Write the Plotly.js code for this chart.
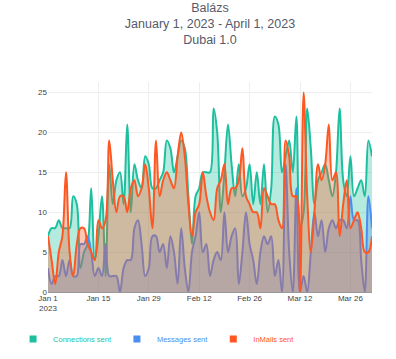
<!DOCTYPE html>
<html>
<head>
<meta charset="utf-8">
<script src="https://cdn.plot.ly/plotly-3.0.1.min.js"></script>
<style>html,body{margin:0;padding:0;background:#fff;}#chart{width:396px;height:359px;}</style>
</head>
<body>
<div id="chart"></div>
<script>
const dates = [
'2023-01-01','2023-01-02','2023-01-03','2023-01-04','2023-01-05','2023-01-06','2023-01-07','2023-01-08','2023-01-09','2023-01-10',
'2023-01-11','2023-01-12','2023-01-13','2023-01-14','2023-01-15','2023-01-16','2023-01-17','2023-01-18','2023-01-19','2023-01-20',
'2023-01-21','2023-01-22','2023-01-23','2023-01-24','2023-01-25','2023-01-26','2023-01-27','2023-01-28','2023-01-29','2023-01-30',
'2023-01-31','2023-02-01','2023-02-02','2023-02-03','2023-02-04','2023-02-05','2023-02-06','2023-02-07','2023-02-08','2023-02-09',
'2023-02-10','2023-02-11','2023-02-12','2023-02-13','2023-02-14','2023-02-15','2023-02-16','2023-02-17','2023-02-18','2023-02-19',
'2023-02-20','2023-02-21','2023-02-22','2023-02-23','2023-02-24','2023-02-25','2023-02-26','2023-02-27','2023-02-28','2023-03-01',
'2023-03-02','2023-03-03','2023-03-04','2023-03-05','2023-03-06','2023-03-07','2023-03-08','2023-03-09','2023-03-10','2023-03-11',
'2023-03-12','2023-03-13','2023-03-14','2023-03-15','2023-03-16','2023-03-17','2023-03-18','2023-03-19','2023-03-20','2023-03-21',
'2023-03-22','2023-03-23','2023-03-24','2023-03-25','2023-03-26','2023-03-27','2023-03-28','2023-03-29','2023-03-30','2023-03-31',
'2023-04-01'
];

const connectionsSent = [
7, 8, 8, 9, 8, 8, 8, 12, 11, 3,
5, 6, 13, 4, 7, 12, 2, 16, 11, 14,
15, 11, 21, 10, 16, 14, 13, 17, 16, 13,
13, 14, 15, 19, 18, 15, 17, 19, 18, 12,
6, 12, 13, 15, 15, 15, 23, 20, 10, 15,
21, 16, 12, 16, 12, 13, 16, 11, 15, 11,
16, 10, 13, 22, 21, 15, 17, 19, 15, 22,
8, 10, 23, 18, 11, 14, 15, 16, 14, 12,
15, 23, 14, 12, 17, 12, 13, 14, 12, 19,
17
];

const messagesSent = [
3, 1, 2, 2, 4, 2, 4, 2, 2, 6,
6, 7, 5, 2, 3, 2, 6, 2, 2, 2,
0, 3, 4, 4, 8, 9, 6, 2, 3, 7,
7, 5, 6, 3, 7, 5, 1, 8, 3, 0,
5, 7, 10, 5, 6, 2, 4, 5, 4, 10,
5, 7, 8, 1, 5, 10, 6, 4, 1, 5,
7, 6, 7, 2, 4, 0, 16, 5, 0, 13,
0, 2, 0, 5, 10, 7, 9, 5, 8, 9,
8, 9, 9, 8, 12, 9, 9, 4, 0, 12,
8
];

const inMailsSent = [
7, 4, 1, 5, 7, 15, 5, 2, 6, 8,
8, 6, 5, 4, 9, 8, 9, 19, 14, 10,
12, 12, 10, 13, 14, 12, 13, 16, 13, 8,
19, 12, 14, 15, 14, 13, 17, 20, 17, 11,
7, 10, 11, 15, 12, 10, 9, 13, 14, 16,
11, 13, 13, 14, 18, 12, 11, 10, 10, 8,
13, 12, 11, 11, 9, 8, 19, 17, 12, 12,
0, 25, 12, 5, 10, 16, 14, 16, 21, 14,
15, 7, 11, 14, 8, 9, 10, 8, 5, 5,
7
];

const seriesNames = ['Connections sent', 'Messages sent', 'InMails sent'];
const seriesColors = ['#1dbf9f', '#4b8ef1', '#ff5722'];
const seriesFills = ['rgba(29,191,159,0.33)', 'rgba(75,142,241,0.33)', 'rgba(255,87,34,0.33)'];
const seriesValues = [connectionsSent, messagesSent, inMailsSent];

const traces = [];
seriesValues.forEach((vals, i) => {
  traces.push({
    type: 'scatter', mode: 'lines', x: dates, y: vals,
    name: seriesNames[i], legendgroup: 'g' + i, showlegend: false,
    line: {shape: 'spline', color: seriesColors[i], width: 2},
    fill: 'tozeroy', fillcolor: seriesFills[i]
  });
});
seriesValues.forEach((vals, i) => {
  traces.push({
    type: 'scatter', mode: 'markers', x: [null], y: [null],
    name: '<span style="color:' + seriesColors[i] + '">' + seriesNames[i] + '</span>',
    legendgroup: 'g' + i, showlegend: true,
    marker: {symbol: 'square', size: 7, color: seriesColors[i]}
  });
});

const layout = {
  width: 396, height: 359,
  margin: {l: 48, r: 24, t: 82, b: 67},
  paper_bgcolor: '#fff', plot_bgcolor: '#fff',
  font: {family: 'Liberation Sans, Arial, sans-serif', size: 8, color: '#444'},
  title: {
    text: 'Balázs<br>January 1, 2023 - April 1, 2023<br>Dubai 1.0',
    font: {size: 12.5, color: '#555a6a'},
    x: 0.5, xref: 'paper', xanchor: 'center',
    y: 0.967, yref: 'container', yanchor: 'top'
  },
  xaxis: {
    type: 'date',
    tick0: '2023-01-01', dtick: 14 * 86400000,
    showgrid: true, gridcolor: '#eee',
    tickfont: {size: 8, color: '#444'}
  },
  yaxis: {
    showgrid: true, gridcolor: '#eee',
    zeroline: true, zerolinecolor: '#999', zerolinewidth: 1,
    dtick: 5, rangemode: 'tozero',
    tickfont: {size: 8, color: '#444'}
  },
  showlegend: true,
  legend: {
    orientation: 'h', xref: 'container', x: 0.033, xanchor: 'left',
    yref: 'container', y: 0.056, yanchor: 'middle',
    font: {size: 7.5}, bgcolor: 'rgba(0,0,0,0)', itemclick: false
  }
};

Plotly.newPlot('chart', traces, layout, {displayModeBar: false, responsive: false});
</script>
</body>
</html>
